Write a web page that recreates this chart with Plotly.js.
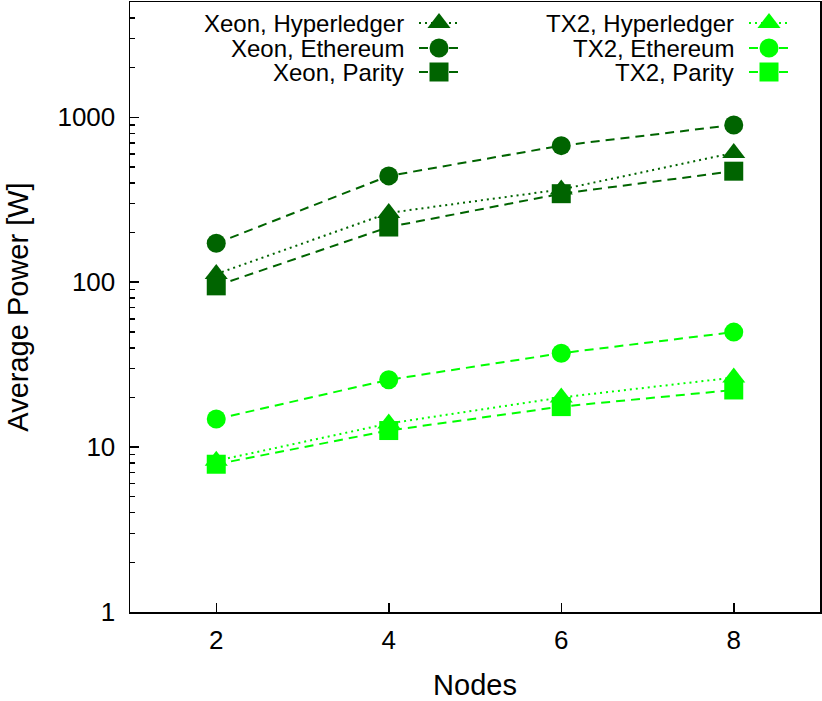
<!DOCTYPE html>
<html>
<head>
<meta charset="utf-8">
<script src="https://cdn.plot.ly/plotly-3.0.1.min.js"></script>
<style>
  html, body { margin: 0; padding: 0; background: #fff; }
  #chart { width: 822px; height: 701px; }
</style>
</head>
<body>
<div id="chart"></div>
<script>
const nodes = [2, 4, 6, 8]

const xeonHyperledger = [112, 263, 365, 608]
const xeonEthereum = [172, 441, 673, 898]
const xeonParity = [95, 216, 344, 471]
const tx2Hyperledger = [8.26, 13.9, 20.0, 26.4]
const tx2Ethereum = [14.8, 25.6, 37.1, 49.8]
const tx2Parity = [7.87, 12.6, 17.6, 22.2]

const seriesNames = [
  "Xeon, Hyperledger", "Xeon, Ethereum", "Xeon, Parity",
  "TX2, Hyperledger", "TX2, Ethereum", "TX2, Parity"
]

const yTickVals = [1, 10, 100, 1000]
const xTickVals = [2, 4, 6, 8]

const DARK = "#006400"
const LIGHT = "#00ff00"
const FONT = "Liberation Sans, Arial, sans-serif"

const styles = [
  {color: DARK, symbol: "triangle-up", dash: "2px,4px"},
  {color: DARK, symbol: "circle", dash: "9px,6px"},
  {color: DARK, symbol: "square", dash: "9px,6px"},
  {color: LIGHT, symbol: "triangle-up", dash: "2px,4px"},
  {color: LIGHT, symbol: "circle", dash: "9px,6px"},
  {color: LIGHT, symbol: "square", dash: "9px,6px"}
]
const values = [xeonHyperledger, xeonEthereum, xeonParity, tx2Hyperledger, tx2Ethereum, tx2Parity]

const markerSize = s => s === "triangle-up" ? 20 : 19

const data = values.map((ys, i) => ({
  x: nodes, y: ys, type: "scatter", mode: "lines+markers", name: seriesNames[i],
  showlegend: false,
  line: {color: styles[i].color, width: 2, dash: styles[i].dash},
  marker: {color: styles[i].color, symbol: styles[i].symbol, size: markerSize(styles[i].symbol)}
}))

// hand-made key in a pixel-like overlay axis so the text sits left of the sample
const keyRows = [23, 48, 72]
const keyCols = [{textRight: 405, x0: 419, x1: 459}, {textRight: 735, x0: 749, x1: 789}]
const annotations = []
seriesNames.forEach((name, i) => {
  const col = keyCols[Math.floor(i / 3)]
  const yy = keyRows[i % 3]
  const st = styles[i]
  data.push({
    x: [col.x0, col.x1], y: [yy, yy], xaxis: "x2", yaxis: "y2", type: "scatter", mode: "lines",
    showlegend: false, hoverinfo: "skip", line: {color: st.color, width: 2, dash: st.dash}
  })
  data.push({
    x: [(col.x0 + col.x1) / 2], y: [yy], xaxis: "x2", yaxis: "y2", type: "scatter", mode: "markers",
    showlegend: false, hoverinfo: "skip", marker: {color: st.color, symbol: st.symbol, size: markerSize(st.symbol)}
  })
  annotations.push({
    xref: "x2", yref: "y2", x: col.textRight, y: yy, text: name, showarrow: false,
    xanchor: "right", yanchor: "middle", borderpad: 0,
    font: {family: FONT, size: 24, color: "#000"}
  })
})

const minorVals = []
for (const d of [1, 10, 100, 1000]) for (let k = 2; k <= 9; k++) if (d * k <= 5000) minorVals.push(d * k)

const layout = {
  width: 822, height: 701,
  margin: {l: 130, r: 2, t: 2, b: 89},
  paper_bgcolor: "#fff", plot_bgcolor: "#fff",
  font: {family: FONT, size: 26, color: "#000"},
  showlegend: false,
  xaxis: {
    range: [1, 9], tickmode: "array", tickvals: xTickVals,
    ticks: "inside", ticklen: 9, tickwidth: 1.5, tickcolor: "#000",
    showline: true, mirror: true, linecolor: "#000", linewidth: 1.5,
    showgrid: false, zeroline: false,
    tickfont: {size: 26}, ticklabelstandoff: 4,
    title: {text: "Nodes", font: {size: 29}, standoff: 23}
  },
  yaxis: {
    type: "log", range: [0, Math.log10(5000)],
    tickmode: "array", tickvals: yTickVals, ticktext: yTickVals.map(String),
    ticks: "inside", ticklen: 9, tickwidth: 1.5, tickcolor: "#000",
    minor: {tickmode: "array", tickvals: minorVals, ticks: "inside", ticklen: 5, tickwidth: 1.5, tickcolor: "#000", showgrid: false},
    showline: true, mirror: true, linecolor: "#000", linewidth: 1.5,
    showgrid: false, zeroline: false,
    tickfont: {size: 26}, ticklabelstandoff: 8,
    title: {text: "Average Power [W]", font: {size: 29}, standoff: 20}
  },
  xaxis2: {overlaying: "x", range: [130, 820], visible: false, fixedrange: true},
  yaxis2: {overlaying: "y", range: [612, 2], visible: false, fixedrange: true},
  annotations
}

Plotly.newPlot("chart", data, layout, {displayModeBar: false, staticPlot: true})
</script>
</body>
</html>
